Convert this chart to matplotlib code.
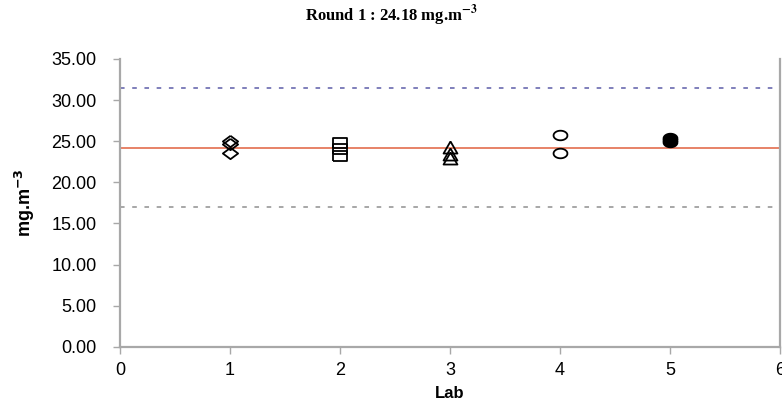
import matplotlib
matplotlib.use("Agg")
import matplotlib.pyplot as plt
import numpy as np
from matplotlib.path import Path

# assigned value and +/-30 % limits
assigned = 24.18
upper_limit = 31.45
lower_limit = 16.95

labs = [1, 2, 3, 4, 5]
lab1 = [25.0, 24.7, 23.55]
lab2 = [24.8, 24.0, 23.2]
lab3 = [24.3, 23.5, 23.0]
lab4 = [25.7, 23.6]
lab5 = [25.4, 25.1, 24.9]

plt.rcParams["font.family"] = ["Liberation Sans", "DejaVu Sans"]


def stretched(verts, codes=None, sx=1.4):
    # wide markers, like the old spreadsheet charts
    v = np.array(verts, dtype=float)
    v[:, 0] *= sx
    return Path(v, codes)


t = np.linspace(0, 2 * np.pi, 60)
ellipse = stretched(np.column_stack([np.cos(t), np.sin(t)]), sx=1.45)
diamond = stretched([(0, 1), (1, 0), (0, -1), (-1, 0), (0, 1)], sx=1.35)
rect = stretched([(-1, -1), (1, -1), (1, 1), (-1, 1), (-1, -1)], sx=1.45)
tri = stretched([(0, 1), (1, -1), (-1, -1), (0, 1)], sx=1.15)

fig = plt.figure(figsize=(7.82, 4.03), dpi=100)
ax = fig.add_axes([0.1535, 0.139, 0.844, 0.715])

ax.axhline(assigned, color="#e0603f", lw=1.1, zorder=1)
ax.axhline(upper_limit, color="#5c5ca8", lw=1.1, ls=(0, (3, 5)), zorder=1)
ax.axhline(lower_limit, color="#8f8f8f", lw=1.1, ls=(0, (3, 5)), zorder=1)

mk = dict(linestyle="none", markeredgewidth=1.3,
          markeredgecolor="black", zorder=3)
ax.plot([labs[0]] * len(lab1), lab1, marker=diamond, markersize=11,
        markerfacecolor="none", **mk)
ax.plot([labs[1]] * len(lab2), lab2, marker=rect, markersize=10,
        markerfacecolor="none", **mk)
ax.plot([labs[2]] * len(lab3), lab3, marker=tri, markersize=10,
        markerfacecolor="none", **mk)
ax.plot([labs[3]] * len(lab4), lab4, marker=ellipse, markersize=10,
        markerfacecolor="none", **mk)
ax.plot([labs[4]] * len(lab5), lab5, marker=ellipse, markersize=10,
        markerfacecolor="black", **mk)

ax.set_xlim(0, 6)
ax.set_ylim(0, 35)
ax.set_xticks(range(0, 7))
ax.set_yticks(np.arange(0, 36, 5))
ax.set_yticklabels([f"{v:.2f}" for v in np.arange(0, 36, 5)])

for side in ["left", "bottom", "right"]:
    ax.spines[side].set_color("#a8a8a8")
    ax.spines[side].set_linewidth(1.6)
ax.spines["top"].set_visible(False)
ax.tick_params(axis="both", colors="#a8a8a8", labelcolor="black",
               labelsize=13, length=5, width=1)
ax.tick_params(axis="y", pad=12)
ax.tick_params(axis="x", pad=6)

ax.set_xlabel("Lab", fontsize=12, fontweight="bold", labelpad=5)
ax.set_ylabel("mg.m$^{\\mathbf{-3}}$", fontsize=13, fontweight="bold", labelpad=10)

fig.text(0.5, 0.962, "Round 1 : 24.18 mg.m$^{\\mathbf{-3}}$", ha="center",
         va="center", fontsize=12, fontweight="bold", family="Liberation Serif",
         math_fontfamily="stix")

fig.savefig("out.png", dpi=100)
